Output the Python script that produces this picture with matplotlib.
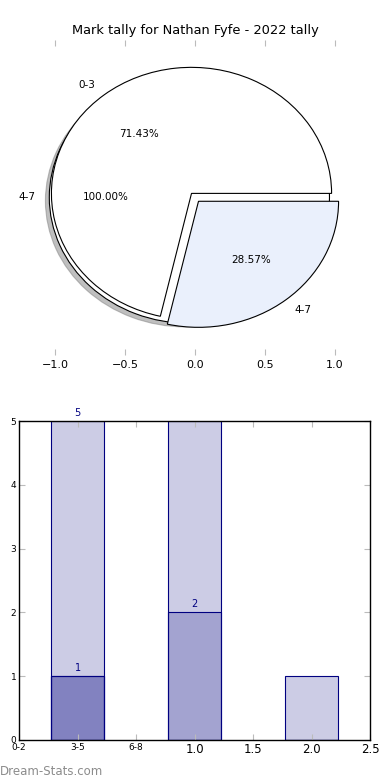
import numpy as np
import matplotlib
matplotlib.use('Agg')
import matplotlib.pyplot as plt

# pie data
pie_full_labels = ['4-7']
pie_full_values = [7]
pie_labels = ['0-3', '4-7']
pie_values = [5, 2]
pie_colors = ['#ffffff', '#eaf0fc']

# bar data
bar_tick_labels = ['0-2', '3-5', '6-8', '1.0', '1.5', '2.0', '2.5']
bar_series = [
    [5, 5, 1],
    [1, 2, 0],
    [1, 0, 0],
]
# (series index, category index) of the bars that carry a number
bar_annot = [(0, 0), (1, 1), (2, 0)]

fig = plt.figure(figsize=(3.9, 7.8), dpi=100)

# ---- pie ----
ax1 = fig.add_axes([0.051, 0.545, 0.898, 0.404])
wp = {'edgecolor': 'black', 'linewidth': 0.8}
ax1.pie(pie_full_values, labels=pie_full_labels, colors=['#ffffff'],
        explode=[0.04], autopct='%1.2f%%', wedgeprops=wp,
        shadow={'ox': -0.02, 'oy': -0.02, 'shade': 0.5},
        textprops={'fontsize': 7.5})
ax1.pie(pie_values, labels=pie_labels, colors=pie_colors,
        explode=[0.04, 0.04], autopct='%1.2f%%', wedgeprops=wp,
        textprops={'fontsize': 7.5})
ax1.set_aspect('auto')
ax1.set_xlim(-1.25, 1.25)
ax1.set_ylim(-1.25, 1.25)
ax1.set_xticks([-1.0, -0.5, 0.0, 0.5, 1.0])
ax1.set_yticks([])
ax1.tick_params(axis='x', direction='in', top=True, bottom=True, color='#bbbbbb',
                length=4, labelsize=8)
ax1.set_frame_on(False)
ax1.set_title('Mark tally for Nathan Fyfe - 2022 tally', fontsize=9.4, pad=4)

# ---- bars ----
ax2 = fig.add_axes([0.049, 0.0513, 0.9, 0.4087])
x = np.arange(len(bar_series[0]))
for vals in bar_series:
    ax2.bar(x, vals, width=0.45, color='navy', alpha=0.2, edgecolor='none')
    ax2.bar(x, vals, width=0.45, fill=False, edgecolor='navy', linewidth=0.8)
for s, c in bar_annot:
    h = bar_series[s][c]
    ax2.text(x[c], h + 0.05, str(h), ha='center', va='bottom', color='navy',
             fontsize=7)

ax2.set_xlim(-0.5, 2.5)
ax2.set_ylim(0, 5)
ticks = np.arange(-0.5, 2.51, 0.5)
ax2.set_xticks(ticks)
ax2.set_xticklabels(bar_tick_labels)
for i, t in enumerate(ax2.get_xticklabels()):
    t.set_fontsize(6.5 if i < 3 else 8.5)
ax2.set_yticks(range(6))
ax2.tick_params(axis='y', labelsize=6.5, pad=2)
ax2.tick_params(axis='x', pad=2)
ax2.tick_params(direction='in', top=True, right=True, color='#bbbbbb', length=4)
for sp in ax2.spines.values():
    sp.set_linewidth(1)

fig.text(0.0, 0.007, 'Dream-Stats.com', color='#8c8c8c', fontsize=8.5)

fig.savefig('out.png', dpi=100)
